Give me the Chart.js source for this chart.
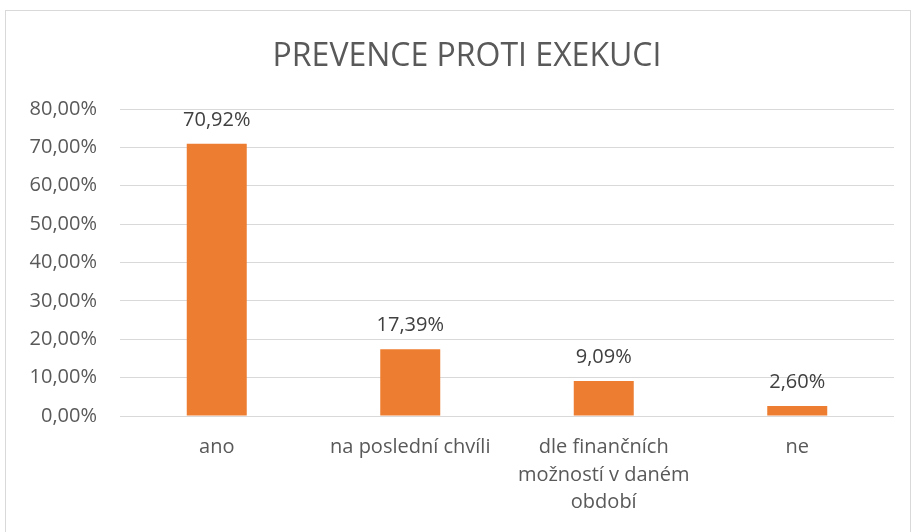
<!DOCTYPE html>
<html>
<head>
<meta charset="utf-8">
<script src="https://cdn.jsdelivr.net/npm/chart.js@4/dist/chart.umd.min.js"></script>
<style>
  html, body { margin: 0; padding: 0; background: #fff; }
  #box { position: absolute; left: 5px; top: 10px; width: 904px; height: 530px; border: 1px solid #d9d9d9; }
  #c { display: block; }
</style>
</head>
<body>
<div id="box"><canvas id="c" width="904" height="530"></canvas></div>
<script>
const titleText = "PREVENCE PROTI EXEKUCI";
const categories = ["ano", "na poslední chvíli", ["dle finančních", "možností v daném", "období"], "ne"];
const values = [70.92, 17.39, 9.09, 2.60];
const yMin = 0, yMax = 80, yStep = 10;

const fmt = v => v.toFixed(2).replace('.', ',') + '%';
const FONT = "'Open Sans', sans-serif";

const valueLabels = {
  id: 'valueLabels',
  afterDatasetsDraw(chart) {
    const ctx = chart.ctx;
    const meta = chart.getDatasetMeta(0);
    ctx.save();
    ctx.font = "20px " + FONT;
    ctx.fillStyle = '#404040';
    ctx.textAlign = 'center';
    ctx.textBaseline = 'middle';
    meta.data.forEach((bar, i) => {
      ctx.fillText(fmt(values[i]), bar.x, bar.y - 24);
    });
    ctx.restore();
  }
};

const chartTitle = {
  id: 'chartTitle',
  afterDraw(chart) {
    const ctx = chart.ctx;
    ctx.save();
    ctx.font = "32px " + FONT;
    ctx.fillStyle = '#595959';
    ctx.textAlign = 'center';
    ctx.textBaseline = 'middle';
    ctx.fillText(titleText, 461, 45.6);
    ctx.restore();
  }
};

new Chart(document.getElementById('c'), {
  type: 'bar',
  data: {
    labels: categories,
    datasets: [{
      data: values,
      backgroundColor: '#ED7D31',
      borderWidth: 0,
      categoryPercentage: 1,
      barPercentage: 0.31
    }]
  },
  options: {
    responsive: false,
    animation: false,
    layout: { padding: { left: 0, right: 16, top: 98, bottom: 0 } },
    plugins: {
      legend: { display: false },
      tooltip: { enabled: false },
      title: { display: false }
    },
    scales: {
      x: {
        grid: { display: false, drawTicks: false },
        border: { display: false },
        ticks: {
          color: '#595959',
          font: { family: FONT, size: 20, lineHeight: 1.37 },
          padding: 18,
          maxRotation: 0,
          autoSkip: false
        },
        afterFit(scale) { scale.height = 125; }
      },
      y: {
        min: yMin, max: yMax,
        grid: { color: '#d9d9d9', lineWidth: 1, drawTicks: false },
        border: { display: false },
        ticks: {
          stepSize: yStep,
          color: '#595959',
          font: { family: FONT, size: 20 },
          padding: 23,
          callback: v => fmt(v)
        },
        afterFit(scale) { scale.width = 114; }
      }
    }
  },
  plugins: [valueLabels, chartTitle]
});
</script>
</body>
</html>
